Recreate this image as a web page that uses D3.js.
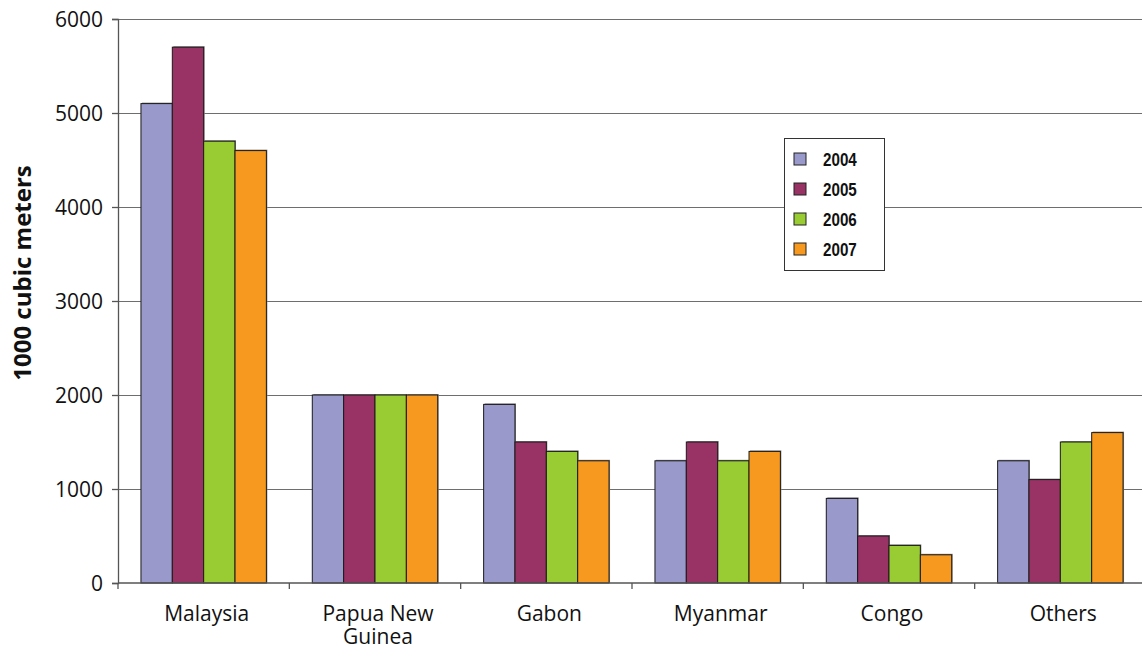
<!DOCTYPE html>
<html>
<head>
<meta charset="utf-8">
<script src="https://cdn.jsdelivr.net/npm/d3@7"></script>
<style>
  html, body { margin: 0; padding: 0; background: #fff; }
  svg { display: block; }
  .tick-label { font-family: "Open Sans", "Noto Sans", sans-serif; font-size: 21px; fill: #111; }
</style>
</head>
<body>
<svg id="chart" width="1142" height="650"></svg>
<script>
// Log imports by source, thousand cubic meters
const categories = ["Malaysia", "Papua New Guinea", "Gabon", "Myanmar", "Congo", "Others"];
const categoryLines = [["Malaysia"], ["Papua New", "Guinea"], ["Gabon"], ["Myanmar"], ["Congo"], ["Others"]];
const years = ["2004", "2005", "2006", "2007"];
const values2004 = [5100, 2000, 1900, 1300, 900, 1300];
const values2005 = [5700, 2000, 1500, 1500, 500, 1100];
const values2006 = [4700, 2000, 1400, 1300, 400, 1500];
const values2007 = [4600, 2000, 1300, 1400, 300, 1600];
const yTicks = [0, 1000, 2000, 3000, 4000, 5000, 6000];
const colors = ["#9999cc", "#993366", "#99cc33", "#f7991e"];

const series = [values2004, values2005, values2006, values2007];

const svg = d3.select("#chart");
const plotLeft = 118, plotRight = 1146, plotTop = 19, plotBottom = 583;

const x = d3.scaleBand().domain(categories).range([plotLeft, plotRight]).padding(0);
const step = x.bandwidth();
const barW = step * 0.183;
const groupPad = (step - 4 * barW) / 2;
const x1 = d3.scaleBand().domain(years).range([groupPad, groupPad + 4 * barW]).padding(0);

const y = d3.scaleLinear().domain([0, 6000]).range([plotBottom, plotTop]);

// horizontal gridlines
svg.append("g")
  .selectAll("line")
  .data(yTicks.filter(d => d > 0))
  .join("line")
  .attr("x1", plotLeft).attr("x2", 1142)
  .attr("y1", d => y(d)).attr("y2", d => y(d))
  .attr("stroke", "#6e6e6e").attr("stroke-width", 1)
  .attr("shape-rendering", "crispEdges");

// bars
const groups = svg.append("g")
  .selectAll("g")
  .data(categories)
  .join("g")
  .attr("transform", d => `translate(${x(d)},0)`);

groups.each(function(cat, ci) {
  const g = d3.select(this);
  const rows = years.map((yr, si) => ({ yr, si, v: series[si][ci] }));
  // soft shadow edge
  g.selectAll("rect.shadow")
    .data(rows)
    .join("rect")
    .attr("class", "shadow")
    .attr("x", d => x1(d.yr) + 1)
    .attr("y", d => y(d.v) - 1)
    .attr("width", x1.bandwidth())
    .attr("height", d => plotBottom - y(d.v) + 1)
    .attr("fill", "#8a8a8a");
  g.selectAll("rect.bar")
    .data(rows)
    .join("rect")
    .attr("class", "bar")
    .attr("x", d => x1(d.yr))
    .attr("y", d => y(d.v))
    .attr("width", x1.bandwidth())
    .attr("height", d => plotBottom - y(d.v))
    .attr("fill", d => colors[d.si])
    .attr("stroke", "#1a1a1a")
    .attr("stroke-width", 1);
});

// y axis
const yAxis = d3.axisLeft(y).tickValues(yTicks).tickSize(6).tickPadding(9).tickFormat(d3.format("d"));
const gy = svg.append("g").attr("transform", `translate(${plotLeft},0)`).call(yAxis);
gy.select(".domain").attr("stroke", "#555").attr("stroke-width", 1.3);
gy.selectAll(".tick line").attr("stroke", "#555").attr("stroke-width", 1.3);
gy.selectAll(".tick text").attr("class", "tick-label").attr("font-size", null).attr("font-family", null)
  .attr("dy", "0.36em");

// x axis baseline and boundary ticks
svg.append("line")
  .attr("x1", plotLeft).attr("x2", 1142)
  .attr("y1", plotBottom).attr("y2", plotBottom)
  .attr("stroke", "#555").attr("stroke-width", 1.3);
svg.append("g")
  .selectAll("line")
  .data(categories.map(c => x(c)).concat([plotRight]))
  .join("line")
  .attr("x1", d => d).attr("x2", d => d)
  .attr("y1", plotBottom).attr("y2", plotBottom + 6)
  .attr("stroke", "#555").attr("stroke-width", 1.3);

// category labels, one text element per line
const labelRows = [];
categories.forEach((c, i) => {
  categoryLines[i].forEach((line, li) => labelRows.push({ c, line, li }));
});
svg.append("g")
  .selectAll("text")
  .data(labelRows)
  .join("text")
  .attr("class", "tick-label")
  .attr("text-anchor", "middle")
  .attr("x", d => x(d.c) + step / 2 + 3)
  .attr("y", d => 621 + d.li * 23)
  .text(d => d.line);

// y axis title
svg.append("text")
  .attr("transform", `translate(31,273) rotate(-90)`)
  .attr("text-anchor", "middle")
  .attr("font-family", "'Open Sans', 'Noto Sans', sans-serif")
  .attr("font-weight", "bold")
  .attr("font-size", 24)
  .attr("fill", "#111")
  .text("1000 cubic meters");

// legend
const legend = svg.append("g").attr("transform", "translate(784,138)");
legend.append("rect")
  .attr("x", 0.5).attr("y", 0.5).attr("width", 100).attr("height", 132)
  .attr("fill", "#fff").attr("stroke", "#333").attr("stroke-width", 1);
const items = legend.selectAll("g.item")
  .data(years)
  .join("g")
  .attr("class", "item")
  .attr("transform", (d, i) => `translate(0,${21 + i * 30})`);
items.append("rect")
  .attr("x", 10).attr("y", -6).attr("width", 12).attr("height", 12)
  .attr("fill", (d, i) => colors[i]).attr("stroke", "#222").attr("stroke-width", 1);
// condensed bold year labels
items.append("text")
  .attr("transform", "translate(39,0) scale(0.8,1)")
  .attr("x", 0).attr("y", 0).attr("dy", "0.36em")
  .attr("font-family", "'Liberation Sans', Arial, sans-serif")
  .attr("font-weight", "bold")
  .attr("font-size", 19)
  .attr("fill", "#111")
  .text(d => d);
</script>
</body>
</html>
